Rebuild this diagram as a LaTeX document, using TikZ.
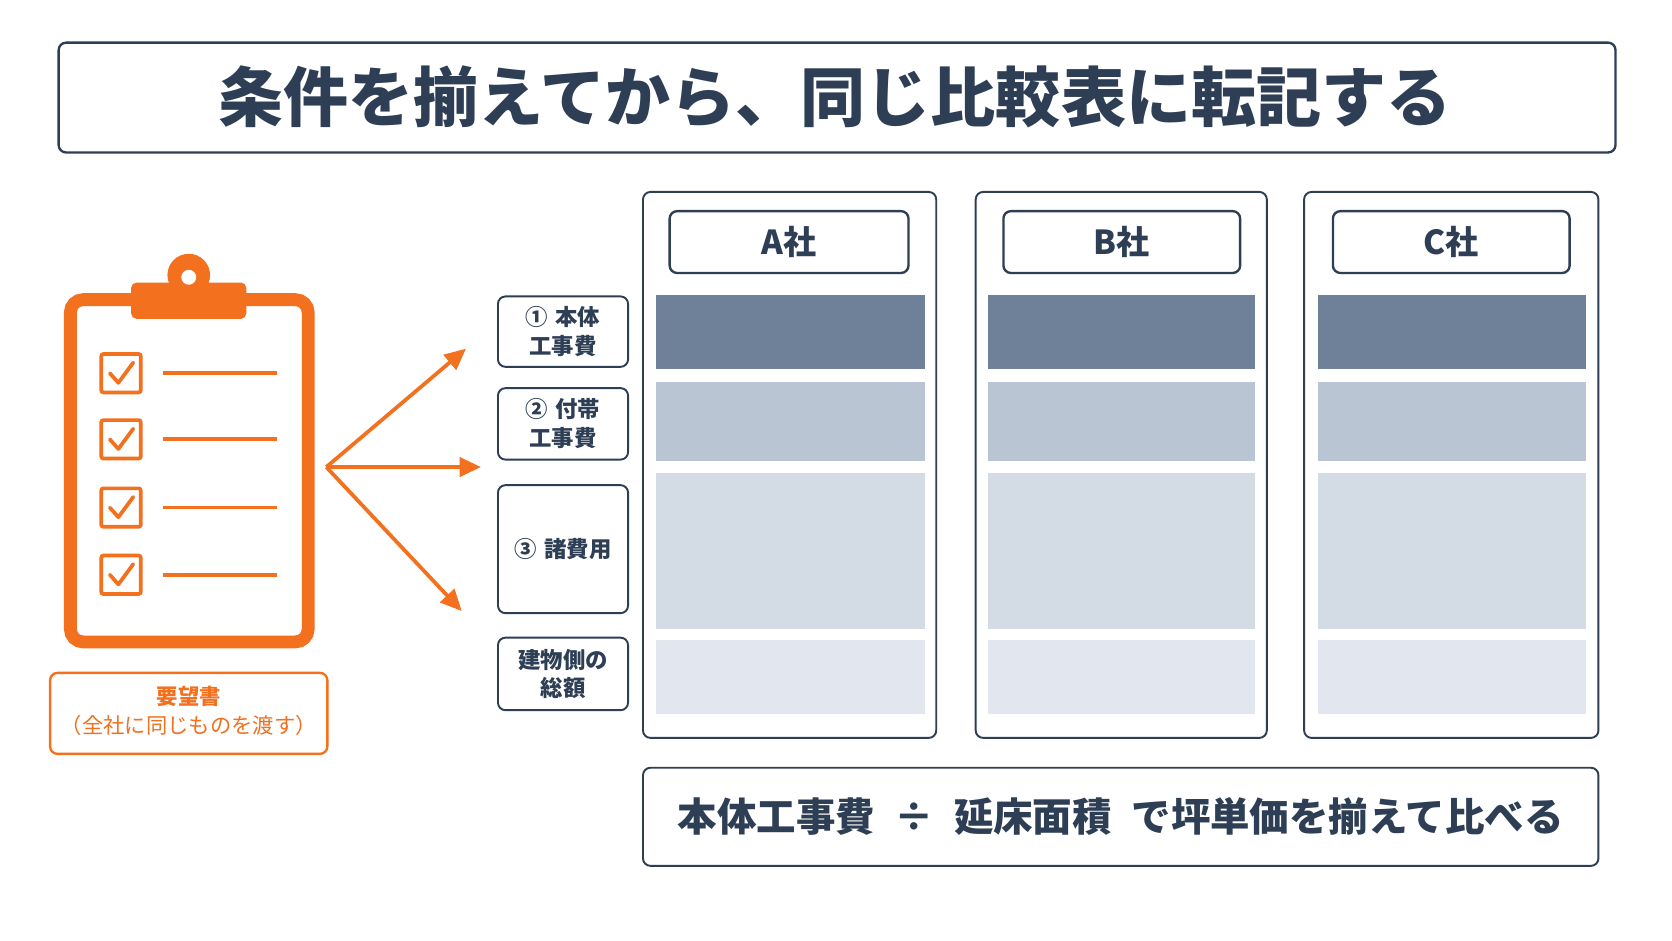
\documentclass[tikz,border=0pt]{standalone}
\usepackage{fontspec}
\setmainfont{Noto Sans CJK JP}
\usetikzlibrary{arrows.meta}
\definecolor{navy}{HTML}{2D3E55}
\definecolor{org}{HTML}{F2701E}
\definecolor{b1}{HTML}{6F8198}
\definecolor{b2}{HTML}{B9C5D3}
\definecolor{b3}{HTML}{D3DBE5}
\definecolor{b4}{HTML}{E2E7EF}
\begin{document}
\begin{tikzpicture}[x=1pt,y=-1pt,
  nbox/.style={draw=navy,line width=2.2pt,rounded corners=7pt,fill=white},
  obox/.style={draw=org,line width=2.2pt,rounded corners=7pt,fill=white},
  lab/.style={font=\fontsize{21}{27}\selectfont\bfseries,text=navy,align=center},
  arr/.style={draw=org,line width=3.5pt,-{Triangle[length=20pt,width=18pt]}}]
\useasboundingbox[fill=white] (0,0) rectangle (1568,882);
% title
\draw[nbox] (55,40) rectangle (1515,143);
\node[font=\fontsize{61}{66}\selectfont\bfseries,text=navy] (title) at (783,91) {条件を揃えてから、同じ比較表に転記する};
% clipboard
\draw[org,line width=12pt,rounded corners=12pt] (66,281) rectangle (289,602);
\fill[org] (177,258) circle (20pt);
\fill[org,rounded corners=5pt] (123,265) rectangle (231,299);
\fill[white] (177,260) circle (7pt);
\foreach \yy in {350,412,476,539}{
  \draw[org,line width=3.5pt,rounded corners=2pt] (95,\yy-18) rectangle (132,\yy+18);
  \draw[org,line width=3.5pt,line cap=round,line join=round] (103,\yy) -- (111,\yy+9) -- (125,\yy-10);
  \draw[org,line width=3.5pt] (153,\yy) -- (260,\yy);
}
\draw[obox] (47,631) rectangle (307,707);
\node[font=\fontsize{20}{27}\selectfont,text=org,align=center] (req) at (177,667) {\textbf{要望書}\\（全社に同じものを渡す）};
% arrows
\coordinate (src) at (306,438);
\coordinate (t1) at (437,327);
\coordinate (t2) at (451,438);
\coordinate (t3) at (433,573);
\draw[arr] (src) -- (t1);
\draw[arr] (src) -- (t2);
\draw[arr] (src) -- (t3);
% row labels
\draw[nbox,line width=1.8pt] (467,278) rectangle (589,344);
\node[lab] (r1) at (528,311) {①\,\,本体\\工事費};
\draw[nbox,line width=1.8pt] (467,364) rectangle (589,431);
\node[lab] (r2) at (528,397) {②\,\,付帯\\工事費};
\draw[nbox,line width=1.8pt] (467,455) rectangle (589,575);
\node[lab] (r3) at (528,515) {③\,\,諸費用};
\draw[nbox,line width=1.8pt] (467,598) rectangle (589,666);
\node[lab] (r4) at (528,632) {建物側の\\総額};
% columns
\foreach \cl/\cr/\hl/\hr/\bl/\br/\nm in {603/878/628/852/615/867/A,915/1188/941/1163/927/1177/B,1223/1499/1250/1472/1236/1487/C}{
  \draw[nbox,line width=1.8pt] (\cl,180) rectangle (\cr,692);
  \draw[nbox,line width=2.2pt] (\hl,198) rectangle (\hr,256);
  \node[font=\fontsize{31}{34}\selectfont\bfseries,text=navy] (h\nm) at ({(\hl+\hr)/2},227) {\nm 社};
  \fill[b1] (\bl,277) rectangle (\br,346);
  \fill[b2] (\bl,358) rectangle (\br,432);
  \fill[b3] (\bl,444) rectangle (\br,590);
  \fill[b4] (\bl,600) rectangle (\br,670);
}
% bottom
\draw[nbox,line width=1.8pt] (603,720) rectangle (1499,812);
\node[font=\fontsize{37}{42}\selectfont\bfseries,text=navy] (foot) at (1051,766) {本体工事費\enspace ÷\enspace 延床面積\enspace で坪単価を揃えて比べる};
\end{tikzpicture}
\end{document}
